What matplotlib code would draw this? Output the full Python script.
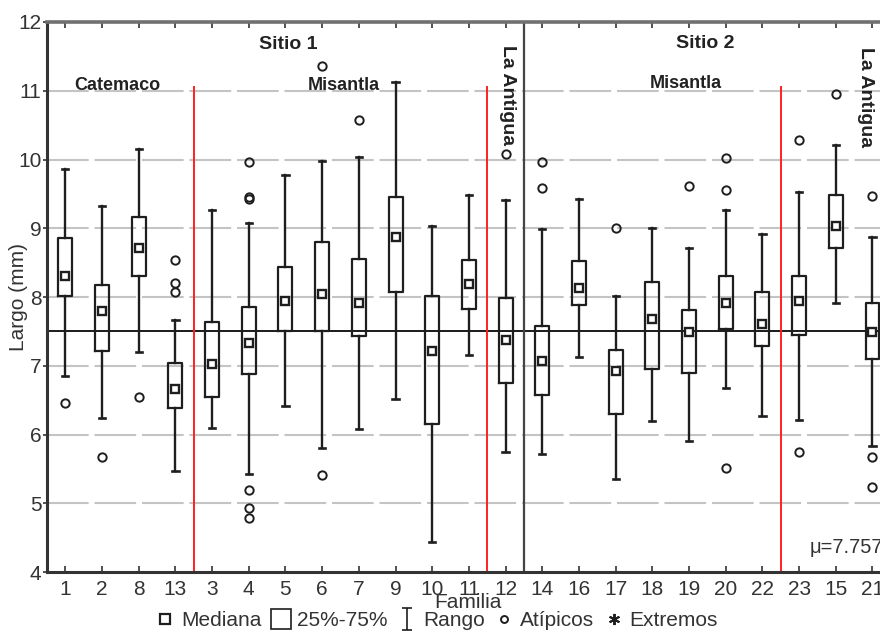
import matplotlib
matplotlib.use("Agg")
import matplotlib.pyplot as plt
from matplotlib.lines import Line2D
from matplotlib.path import Path

plt.rcParams['font.family'] = ['Liberation Sans', 'DejaVu Sans']

familias = ['1', '2', '8', '13', '3', '4', '5', '6', '7', '9', '10', '11', '12',
            '14', '16', '17', '18', '19', '20', '22', '23', '15', '21']
whis_lo = [6.85, 6.24, 7.20, 5.47, 6.09, 5.42, 6.41, 5.80, 6.08, 6.51, 4.43, 7.15, 5.74,
           5.72, 7.13, 5.36, 6.20, 5.91, 6.67, 6.27, 6.21, 7.91, 5.84]
q1 = [8.02, 7.22, 8.30, 6.39, 6.55, 6.88, 7.50, 7.50, 7.43, 8.07, 6.16, 7.82, 6.75,
      6.58, 7.89, 6.30, 6.96, 6.90, 7.54, 7.29, 7.45, 8.71, 7.10]
mediana = [8.30, 7.79, 8.72, 6.66, 7.03, 7.33, 7.94, 8.05, 7.91, 8.88, 7.21, 8.19, 7.38,
           7.07, 8.13, 6.92, 7.68, 7.49, 7.91, 7.61, 7.94, 9.03, 7.49]
q3 = [8.86, 8.17, 9.16, 7.04, 7.63, 7.86, 8.44, 8.80, 8.56, 9.46, 8.02, 8.54, 7.98,
      7.58, 8.52, 7.23, 8.22, 7.81, 8.30, 8.08, 8.31, 9.49, 7.91]
whis_hi = [9.86, 9.32, 10.16, 7.67, 9.27, 9.08, 9.77, 9.98, 10.03, 11.13, 9.04, 9.49, 9.41,
           8.99, 9.43, 8.02, 9.01, 8.71, 9.27, 8.91, 9.53, 10.21, 8.88]
atipicos = [[6.46], [5.68], [6.55], [8.54, 8.21, 8.08], [],
            [9.97, 9.46, 9.43, 5.20, 4.93, 4.78], [], [11.36, 5.41], [10.57], [], [], [],
            [10.08], [9.96, 9.59], [], [9.00], [], [9.61], [10.02, 9.55, 5.51], [],
            [10.29, 5.74], [10.95], [9.47, 5.67, 5.23]]
media_linea = 7.5
mu_text = "\u03bc=7.757"

fig = plt.figure(figsize=(8.8, 6.32), dpi=100)
ax = fig.add_axes([0.0534, 0.0949, 0.9589, 0.8703])

n = len(familias)
pos = list(range(1, n + 1))
ax.set_xlim(0.5, n + 0.5)
ax.set_ylim(4, 12)

# grid
for yv in range(5, 12):
    ax.axhline(yv, color='#c4c4c4', lw=1.5, zorder=0,
               dashes=(30, 4.2), dash_joinstyle='miter')
for ln in ax.lines:
    ln.set_dashes((30 / 1.5, 4.2 / 1.5))

stats = []
for i in range(n):
    stats.append(dict(med=mediana[i], q1=q1[i], q3=q3[i], whislo=whis_lo[i],
                      whishi=whis_hi[i], fliers=atipicos[i]))

dark = '#1e1e1e'
ax.bxp(stats, positions=pos, widths=0.38, capwidths=0.17, showfliers=True,
       boxprops=dict(color=dark, lw=1.6),
       whiskerprops=dict(color=dark, lw=1.7),
       capprops=dict(color=dark, lw=1.9),
       medianprops=dict(lw=0),
       flierprops=dict(marker='o', ms=6, mfc='none', mec=dark, mew=1.4),
       zorder=3)
ax.plot(pos, mediana, ls='none', marker='s', ms=6.2, mfc='white', mec=dark, mew=1.7, zorder=4)

# mean line and separators
ax.axhline(media_linea, color='#1a1a1a', lw=1.4, zorder=2)
for xr in [4.5, 12.5, 20.5]:
    ax.plot([xr, xr], [4, 11.05], color='#ff2020', lw=1.4, zorder=2)
ax.axvline(13.5, color='#444444', lw=1.6, zorder=2)

# annotations
bold = dict(fontweight='bold', color='#222222', ha='center', va='center')
ax.text(7.08, 11.67, 'Sitio 1', fontsize=14, **bold)
ax.text(18.45, 11.69, 'Sitio 2', fontsize=14, **bold)
ax.text(2.42, 11.07, 'Catemaco', fontsize=13, **bold)
ax.text(8.60, 11.07, 'Misantla', fontsize=13, **bold)
ax.text(17.90, 11.11, 'Misantla', fontsize=13, **bold)
ax.text(13.04, 10.94, 'La Antigua', fontsize=14, rotation=270, **bold)
ax.text(22.80, 10.91, 'La Antigua', fontsize=14, rotation=270, **bold)
ax.text(21.30, 4.36, mu_text, fontsize=14.5, color='#333333', ha='left', va='center')

# axes styling
ax.set_xticks(pos)
ax.set_xticklabels(familias)
ax.set_yticks(range(4, 13))
ax.tick_params(axis='x', direction='in', length=4, width=1.2, top=True, labelsize=15,
               labelcolor='#333333', pad=6, color='#333333')
ax.tick_params(axis='y', direction='out', length=3, width=1.2, labelsize=15,
               labelcolor='#333333', pad=1, color='#333333')
for side in ['left', 'bottom']:
    ax.spines[side].set_linewidth(2.2)
    ax.spines[side].set_color('#333333')
ax.spines['top'].set_linewidth(2.6)
ax.spines['top'].set_color('#707070')
ax.spines['right'].set_visible(False)

fig.text(18 / 880, 1 - 297 / 632, 'Largo (mm)', rotation=90, fontsize=15,
         color='#333333', ha='center', va='center')
fig.text(468 / 880, 1 - 602 / 632, 'Familia', fontsize=15, color='#333333',
         ha='center', va='center')

# legend
ibeam = Path([(-0.45, 1), (0.45, 1), (0, 1), (0, -1), (-0.45, -1), (0.45, -1)],
             [Path.MOVETO, Path.LINETO, Path.MOVETO, Path.LINETO, Path.MOVETO, Path.LINETO])
handles = [
    Line2D([], [], ls='none', marker='s', ms=7, mfc='white', mec=dark, mew=1.6),
    Line2D([], [], ls='none', marker='s', ms=14, mfc='white', mec=dark, mew=1.2),
    Line2D([], [], ls='none', marker=ibeam, ms=16, mec=dark, mew=1.2),
    Line2D([], [], ls='none', marker='o', ms=5, mfc='none', mec=dark, mew=1.4),
    Line2D([], [], ls='none', marker=(6, 2, 0), ms=8, mec=dark, mew=1.4),
]
labels = ['Mediana', '25%-75%', 'Rango', 'At\u00edpicos', 'Extremos']
leg = fig.legend(handles, labels, loc='center', bbox_to_anchor=(437 / 880, 1 - 621 / 632),
                 ncol=5, frameon=False, fontsize=15, handlelength=0.9, handletextpad=0.3,
                 columnspacing=0.5, borderpad=0, labelcolor='#333333')

fig.savefig('out.png', dpi=100)
